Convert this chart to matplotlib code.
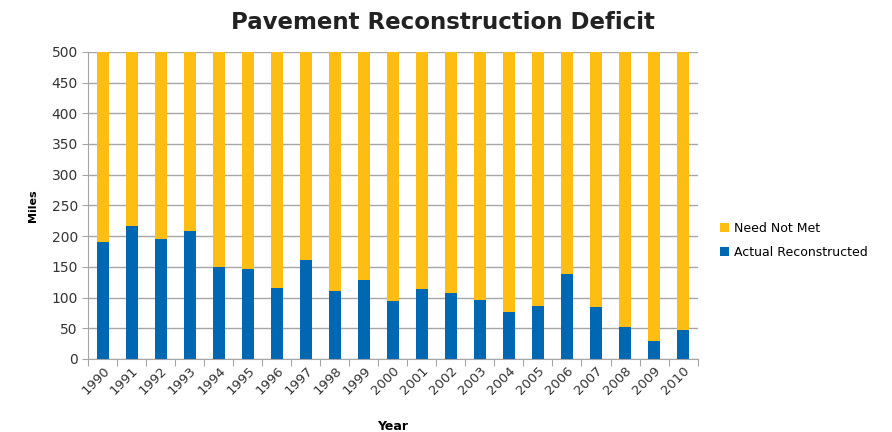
import matplotlib.pyplot as plt
import numpy as np

years = [str(y) for y in range(1990, 2011)]
actual = [191, 217, 195, 208, 150, 147, 115, 161, 110, 129, 95,
          114, 108, 96, 77, 87, 138, 84, 52, 29, 48]
need_total = 500
need_not_met = [need_total - a for a in actual]

blue = "#0068B3"
yellow = "#FDBD13"
grid_c = "#A6A6A6"

fig = plt.figure(figsize=(8.92, 4.32), dpi=100)
ax = fig.add_axes([0.099, 0.169, 0.683, 0.711])

x = np.arange(len(years))
ax.bar(x, actual, width=0.42, color=blue, label="Actual Reconstructed", zorder=3)
ax.bar(x, need_not_met, width=0.42, bottom=actual, color=yellow,
       label="Need Not Met", zorder=3)

ax.set_xlim(-0.5, len(years) - 0.5)
ax.set_ylim(0, 500)
ax.set_yticks(np.arange(0, 501, 50))
ax.yaxis.grid(True, color=grid_c, linewidth=1)
ax.set_axisbelow(True)

# category ticks between bars, labels at centers
ax.set_xticks(np.arange(-0.5, len(years)), minor=False)
ax.set_xticklabels([])
ax.set_xticks(x, minor=True)
ax.set_xticklabels(years, minor=True, rotation=45, ha="right",
                   rotation_mode="anchor", fontsize=9.5, color="#333333")
ax.tick_params(axis="x", which="minor", length=0, pad=4)
ax.tick_params(axis="x", which="major", length=5, color=grid_c)
ax.tick_params(axis="y", length=4, color=grid_c, labelsize=10, labelcolor="#333333")

for s in ["top", "right"]:
    ax.spines[s].set_visible(False)
ax.spines["left"].set_color(grid_c)
ax.spines["bottom"].set_color(grid_c)

ax.set_ylabel("Miles", fontsize=8, fontweight="bold", labelpad=10)
ax.set_xlabel("Year", fontsize=9, fontweight="bold", labelpad=16)
fig.suptitle("Pavement Reconstruction Deficit", x=0.497, y=0.975,
             fontsize=16.5, fontweight="bold", color="#222222")

handles, labels = ax.get_legend_handles_labels()
fig.legend(handles[::-1], labels[::-1], loc="center left",
           bbox_to_anchor=(0.795, 0.444), frameon=False, fontsize=9,
           handlelength=0.7, handleheight=0.7, handletextpad=0.4,
           labelspacing=0.9)

fig.savefig("out.png", dpi=100)
